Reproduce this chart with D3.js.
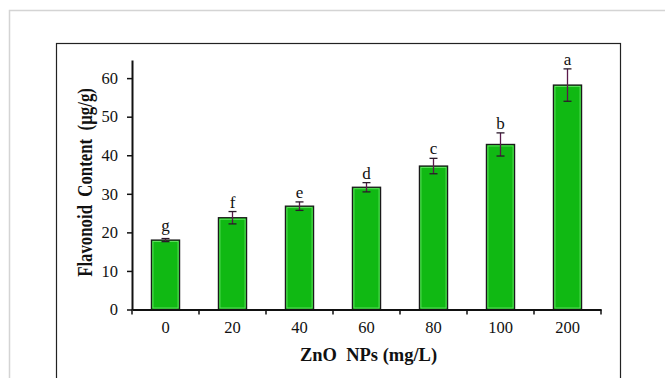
<!DOCTYPE html>
<html lang="en">
<head>
    <meta charset="UTF-8">
    <title>Flavonoid Content vs ZnO NPs</title>
    <style>
        body { margin: 0; padding: 0; background: #fff; overflow: hidden; }
        svg { display: block; }
        text { font-family: "Liberation Serif", "Times New Roman", serif; fill: #111; }
    </style>
</head>
<body>
    <div id="chart"></div>
    <script src="https://d3js.org/d3.v7.min.js"></script>
    <script>
        // Data
        const doses = ['0', '20', '40', '60', '80', '100', '200'];
        const flavonoid = [18.0, 23.8, 26.8, 31.7, 37.2, 42.8, 58.2];
        const errors = [0.4, 1.6, 1.1, 1.2, 2.0, 3.0, 4.2];
        const letters = ['g', 'f', 'e', 'd', 'c', 'b', 'a'];
        const yTicks = [0, 10, 20, 30, 40, 50, 60];

        const width = 665, height = 378;
        const plot = { left: 132, right: 601, top: 60, bottom: 309.5 };

        const svg = d3.select('#chart').append('svg')
            .attr('width', width)
            .attr('height', height);

        // outer light frame + inner black frame
        svg.append('rect')
            .attr('x', 9.5).attr('y', 10.5)
            .attr('width', 700).attr('height', 400)
            .attr('fill', 'none').attr('stroke', '#d4d4d4').attr('stroke-width', 1.5);
        svg.append('rect')
            .attr('x', 56.5).attr('y', 43.5)
            .attr('width', 564).attr('height', 400)
            .attr('fill', '#fff').attr('stroke', '#222').attr('stroke-width', 1.2);

        const x = d3.scaleBand()
            .domain(doses)
            .range([plot.left, plot.right])
            .paddingInner(0.58)
            .paddingOuter(0.29);

        const y = d3.scaleLinear()
            .domain([0, 64.7])
            .range([plot.bottom, plot.top]);

        // bars
        const bars = svg.append('g');
        bars.selectAll('rect.bar')
            .data(doses)
            .join('rect')
            .attr('class', 'bar')
            .attr('x', d => x(d))
            .attr('y', (d, i) => y(flavonoid[i]))
            .attr('width', x.bandwidth())
            .attr('height', (d, i) => y(0) - y(flavonoid[i]))
            .attr('fill', '#10b913')
            .attr('stroke', '#1a1a1a')
            .attr('stroke-width', 1.3);
        // light green inner edge
        bars.selectAll('rect.inner')
            .data(doses)
            .join('rect')
            .attr('class', 'inner')
            .attr('x', d => x(d) + 1.5)
            .attr('y', (d, i) => y(flavonoid[i]) + 1.5)
            .attr('width', x.bandwidth() - 3)
            .attr('height', (d, i) => y(0) - y(flavonoid[i]) - 3)
            .attr('fill', 'none')
            .attr('stroke', '#6ee66e')
            .attr('stroke-width', 0.8);

        // error bars
        const eb = svg.append('g')
            .attr('stroke', '#2a1a2a')
            .attr('stroke-width', 1.3);
        doses.forEach((d, i) => {
            const cx = x(d) + x.bandwidth() / 2;
            const hi = y(flavonoid[i] + errors[i]);
            const lo = y(flavonoid[i] - errors[i]);
            eb.append('line').attr('x1', cx).attr('x2', cx).attr('y1', hi).attr('y2', lo)
                .attr('stroke', '#5a1a4a');
            eb.append('line').attr('x1', cx - 4).attr('x2', cx + 4).attr('y1', hi).attr('y2', hi);
            eb.append('line').attr('x1', cx - 4).attr('x2', cx + 4).attr('y1', lo).attr('y2', lo);
        });

        // significance letters (letters with descenders sit a little higher)
        svg.append('g').selectAll('text')
            .data(doses)
            .join('text')
            .attr('x', d => x(d) + x.bandwidth() / 2)
            .attr('y', (d, i) => y(flavonoid[i] + errors[i]) - 4 - (/[gjpqy]/.test(letters[i]) ? 4 : 0))
            .attr('text-anchor', 'middle')
            .attr('font-size', 17)
            .text((d, i) => letters[i]);

        // y axis
        const yAxis = svg.append('g')
            .attr('transform', `translate(${plot.left},0)`)
            .call(d3.axisLeft(y).tickValues(yTicks).tickSize(5).tickPadding(9).tickSizeOuter(0));
        yAxis.select('.domain').attr('stroke', '#111').attr('stroke-width', 2);
        yAxis.selectAll('.tick line').attr('stroke', '#111').attr('stroke-width', 1.5);
        yAxis.selectAll('.tick text').attr('font-size', 16.5).style('font-family', '"Liberation Serif", serif').attr('fill', '#111');

        // x axis: ticks at the category boundaries
        const xAxis = svg.append('g')
            .attr('transform', `translate(0,${plot.bottom})`)
            .call(d3.axisBottom(x).tickSize(0).tickPadding(12));
        xAxis.select('.domain').attr('stroke', '#111').attr('stroke-width', 2);
        xAxis.selectAll('.tick text').attr('font-size', 16.5).style('font-family', '"Liberation Serif", serif').attr('fill', '#111');
        const boundaries = d3.range(doses.length + 1).map(k => plot.left + k * (plot.right - plot.left) / doses.length);
        xAxis.selectAll('line.bound')
            .data(boundaries)
            .join('line')
            .attr('class', 'bound')
            .attr('x1', d => d).attr('x2', d => d)
            .attr('y1', 0).attr('y2', 5)
            .attr('stroke', '#111').attr('stroke-width', 1.5);

        // axis titles (the y title is narrow and tall in the original)
        svg.append('text')
            .attr('transform', 'translate(92,182.5) rotate(-90) scale(0.84,1)')
            .attr('text-anchor', 'middle')
            .attr('font-size', 20)
            .attr('font-weight', 'bold')
            .style('white-space', 'pre')
            .text('Flavonoid  Content  (µg/g)');

        svg.append('text')
            .attr('x', (plot.left + plot.right) / 2 + 2)
            .attr('y', 361)
            .attr('text-anchor', 'middle')
            .attr('font-size', 18.5)
            .attr('font-weight', 'bold')
            .style('white-space', 'pre')
            .text('ZnO  NPs (mg/L)');
    </script>
</body>
</html>
